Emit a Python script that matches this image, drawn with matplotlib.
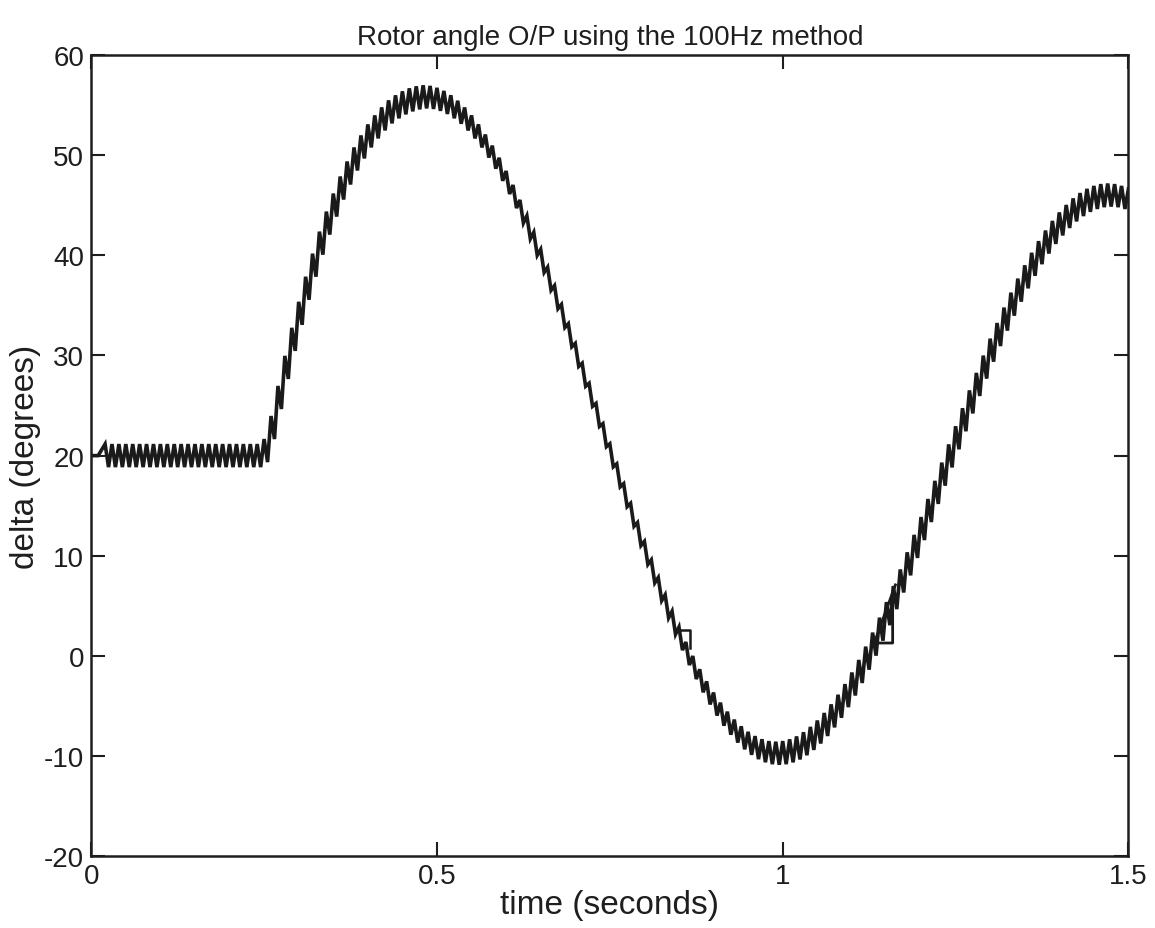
import numpy as np
import matplotlib
matplotlib.use("Agg")
import matplotlib.pyplot as plt

# rotor angle, centre value of each 10 ms (100 Hz) cycle
t_step = 0.01
delta_centre = [
    20.0, 20.0, 20.0, 20.0, 20.0, 20.0, 20.0, 20.0, 20.0, 20.0,
    20.0, 20.0, 20.0, 20.0, 20.0, 20.0, 20.0, 20.0, 20.0, 20.0,
    20.0, 20.0, 20.0, 20.0, 20.0,
    20.5, 22.8, 25.8, 28.8, 31.6, 34.2, 36.7, 39.0, 41.2, 43.2,
    45.0, 46.7, 48.2, 49.6, 50.8, 51.9, 52.8, 53.6, 54.3, 54.8,
    55.2, 55.5, 55.7, 55.8,
    55.74, 55.55, 55.24, 54.81, 54.26, 53.59, 52.80, 51.90, 50.89, 49.78,
    48.57, 47.25, 45.85, 44.36, 42.78, 41.14, 39.43, 37.65, 35.81, 33.93,
    32.01, 30.05, 28.07, 26.07, 24.06, 22.04, 20.03, 18.03, 16.05, 14.09,
    12.17, 10.29, 8.45, 6.68, 4.96, 3.32, 1.74, 0.25, -1.15, -2.47,
    -3.68, -4.79, -5.80, -6.70, -7.49, -8.16, -8.71, -9.14, -9.45, -9.64,
    -9.70,
    -9.64, -9.46, -9.17, -8.75, -8.22, -7.58, -6.83, -5.97, -5.01, -3.95,
    -2.79, -1.54, -0.21, 1.19, 2.68, 4.23, 5.83, 7.49, 9.20, 10.94,
    12.72, 14.52, 16.33, 18.15, 19.97, 21.78, 23.58, 25.36, 27.10, 28.83,
    30.52, 32.08, 33.62, 35.11, 36.51, 37.84, 39.09, 40.25, 41.31, 42.27,
    43.12, 43.86, 44.52, 45.05, 45.47, 45.76, 45.94, 46.00, 45.94, 45.76,
    45.47,
]
ripple_amp = 1.15      # 100 Hz ripple, +/- degrees
ripple_start = 0.02    # ripple begins here

# small glitches in the trace
glitch1_t = [0.853, 0.866, 0.866]
glitch1_y = [2.6, 2.6, 0.8]
glitch2_t = [1.163, 1.135, 1.137, 1.159, 1.159]
glitch2_y = [7.1, 1.8, 1.3, 1.3, 5.5]

x_ticks = [0, 0.5, 1, 1.5]
x_ticklabels = ["0", "0.5", "1", "1.5"]
y_ticks = [-20, -10, 0, 10, 20, 30, 40, 50, 60]

# rippled trace: high at the start of each cycle, low half a cycle later
t_pts, y_pts = [], []
for k, c in enumerate(delta_centre):
    tk = round(k * t_step, 3)
    if tk < ripple_start:
        t_pts.append(tk)
        y_pts.append(c)
        continue
    t_pts.append(tk)
    y_pts.append(c + ripple_amp)
    if tk + t_step / 2 <= 1.5:
        t_pts.append(tk + t_step / 2)
        y_pts.append(c - ripple_amp)

plt.rcParams['font.family'] = ['Liberation Sans', 'DejaVu Sans']
plt.rcParams['axes.unicode_minus'] = False

fig = plt.figure(figsize=(11.55, 9.29), dpi=100)
ax = fig.add_axes([0.079, 0.077, 0.898, 0.863])

line_col = '#1a1a1a'
ax.plot(t_pts, y_pts, color=line_col, lw=2.6, solid_joinstyle='miter')
ax.plot(glitch1_t, glitch1_y, color=line_col, lw=1.8)
ax.plot(glitch2_t, glitch2_y, color=line_col, lw=2.0)

ax.set_xlim(0, 1.5)
ax.set_ylim(-20, 60)
ax.set_xticks(x_ticks)
ax.set_xticklabels(x_ticklabels)
ax.set_yticks(y_ticks)

ax.tick_params(direction='in', length=10, width=1.5, top=True, right=True,
               labelsize=20, colors='#1e1e1e', pad=5)
for sp in ax.spines.values():
    sp.set_linewidth(1.8)
    sp.set_color('#1e1e1e')

ax.set_xlabel("time (seconds)", fontsize=24, labelpad=0, color='#1e1e1e')
ax.set_ylabel("delta (degrees)", fontsize=24, labelpad=2, color='#1e1e1e')
ax.set_title("Rotor angle O/P using the 100Hz method", fontsize=20, pad=8,
             color='#1e1e1e')

fig.savefig("out.png", dpi=100)
